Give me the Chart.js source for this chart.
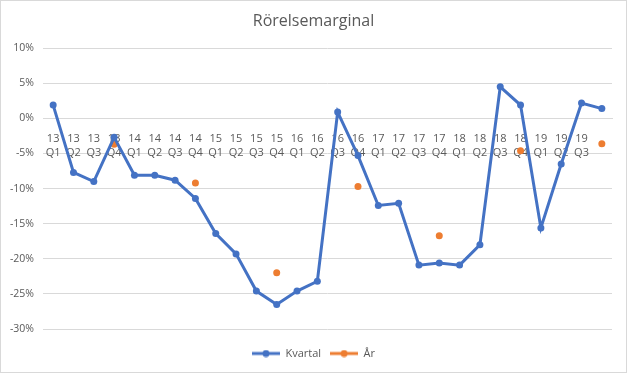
<!DOCTYPE html>
<html>
<head>
<meta charset="utf-8">
<script src="https://cdn.jsdelivr.net/npm/chart.js@4/dist/chart.umd.min.js"></script>
<style>
  html, body { margin: 0; padding: 0; background: #fff; }
  #wrap { width: 627px; height: 373px; box-sizing: border-box; border: 1px solid #d9d9d9; }
</style>
</head>
<body>
<div id="wrap"><canvas id="chart" width="625" height="371"></canvas></div>
<script>
// kvartal labels, two lines each (last one is blank in the original)
const years = ['13','13','13','13','14','14','14','14','15','15','15','15','16','16','16','16',
  '17','17','17','17','18','18','18','18','19','19','19',''];
const quarters = ['Q1','Q2','Q3','Q4','Q1','Q2','Q3','Q4','Q1','Q2','Q3','Q4','Q1','Q2','Q3','Q4',
  'Q1','Q2','Q3','Q4','Q1','Q2','Q3','Q4','Q1','Q2','Q3',''];

// Rörelsemarginal per kvartal (%)
const kvartal = [1.9, -7.7, -9.0, -2.7, -8.1, -8.1, -8.8, -11.4,
  -16.4, -19.3, -24.6, -26.5, -24.6, -23.2, 0.9, -5.3,
  -12.4, -12.1, -20.9, -20.6, -20.9, -18.0, 4.5, 1.9,
  -15.6, -6.5, 2.2, 1.4];

// Rörelsemarginal per år (%), plotted at Q4
const ar = [null, null, null, -3.7, null, null, null, -9.2,
  null, null, null, -22.0, null, null, null, -9.7,
  null, null, null, -16.7, null, null, null, -4.6,
  null, null, null, -3.6];

const yTicks = [10, 5, 0, -5, -10, -15, -20, -25, -30];

const labels = years.map((y, i) => [y, quarters[i]]);

const blue = '#4472C4';
const orange = '#ED7D31';
const textGray = '#595959';

// line with a dot in the middle, like the excel legend
const legendIcon = (color) => {
  const c = document.createElement('canvas');
  c.width = 28; c.height = 8;
  const g = c.getContext('2d');
  g.strokeStyle = color;
  g.lineWidth = 3;
  g.beginPath(); g.moveTo(0, 4); g.lineTo(28, 4); g.stroke();
  g.fillStyle = color;
  g.beginPath(); g.arc(14, 4, 3.5, 0, Math.PI * 2); g.fill();
  return c;
};

new Chart(document.getElementById('chart'), {
  type: 'line',
  data: {
    labels: labels,
    datasets: [{
      label: 'Kvartal',
      data: kvartal,
      borderColor: blue,
      backgroundColor: blue,
      borderWidth: 3,
      pointRadius: 3.5,
      pointBorderWidth: 0,
      pointHoverRadius: 3.5,
      tension: 0
    }, {
      label: 'År',
      data: ar,
      borderColor: orange,
      backgroundColor: orange,
      showLine: false,
      pointRadius: 3.5,
      pointBorderWidth: 0,
      pointHoverRadius: 3.5
    }]
  },
  options: {
    responsive: false,
    animation: false,
    layout: { padding: { left: 0, right: 0, top: 0, bottom: 3 } },
    plugins: {
      title: {
        display: true,
        text: 'Rörelsemarginal',
        color: textGray,
        font: { family: 'Open Sans', size: 16, weight: 'normal' },
        padding: { top: 11, bottom: 17 }
      },
      legend: {
        position: 'bottom',
        title: { display: true, text: ' ', font: { size: 1, lineHeight: 1 }, padding: { top: 9, bottom: 0 } },
        labels: {
          color: textGray,
          font: { family: 'Open Sans', size: 11 },
          usePointStyle: true,
          pointStyleWidth: 28,
          padding: 9,
          generateLabels: (chart) => chart.data.datasets.map((ds, i) => ({
            text: ds.label,
            fontColor: textGray,
            pointStyle: legendIcon(ds.borderColor),
            datasetIndex: i,
            hidden: false,
            lineWidth: 0
          }))
        }
      },
      tooltip: { enabled: false }
    },
    scales: {
      x: {
        type: 'category',
        offset: true,
        position: { y: 0 },
        grid: { display: false },
        border: { display: true, color: '#d9d9d9', width: 1 },
        ticks: {
          color: textGray,
          font: { family: 'Open Sans', size: 11, lineHeight: 1.25 },
          maxRotation: 0,
          autoSkip: false,
          padding: 6
        }
      },
      y: {
        min: -30,
        max: 10,
        afterFit: (scale) => { scale.width = 42; },
        afterBuildTicks: (scale) => { scale.ticks = yTicks.map(v => ({ value: v })); },
        grid: { color: '#d9d9d9', drawTicks: false },
        border: { display: false },
        ticks: {
          color: textGray,
          font: { family: 'Open Sans', size: 10.5 },
          padding: 9,
          callback: (v) => v + '%'
        }
      },
      // empty right margin so title and legend stay centred on the whole chart
      yRight: {
        type: 'linear',
        position: 'right',
        afterFit: (scale) => { scale.width = 14; },
        grid: { display: false },
        border: { display: false },
        ticks: { display: false }
      }
    }
  }
});
</script>
</body>
</html>
